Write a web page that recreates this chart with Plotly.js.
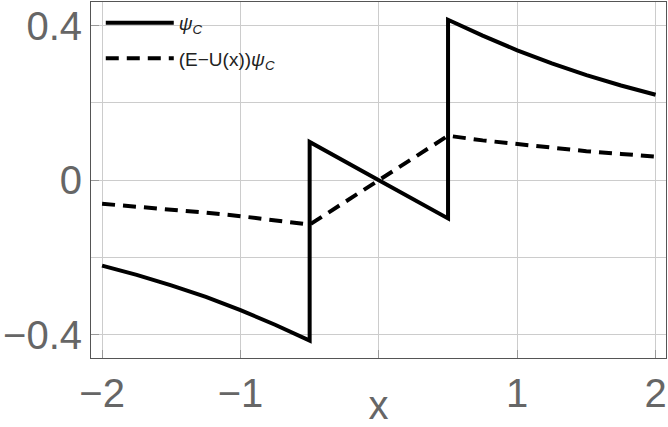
<!DOCTYPE html>
<html>
<head>
<meta charset="utf-8">
<script src="https://cdn.plot.ly/plotly-3.0.1.min.js"></script>
<style>
  html, body { margin: 0; padding: 0; background: #fff; }
  #plotArea { width: 668px; height: 427px; }
</style>
</head>
<body>
<div id="plotArea"></div>
<script>
// values
var xPsi = [-2, -1.75, -1.5, -1.25, -1, -0.75, -0.5, -0.5, 0, 0.5, 0.5, 0.75, 1, 1.25, 1.5, 1.75, 2];
var psi = [-0.221, -0.245, -0.272, -0.302, -0.336, -0.374, -0.415, 0.099, 0, -0.099, 0.415, 0.374, 0.336, 0.302, 0.272, 0.245, 0.221];

var xDash = [-2, -1.75, -1.5, -1.25, -1, -0.75, -0.5, 0, 0.5, 0.75, 1, 1.25, 1.5, 1.75, 2];
var eupsi = [-0.061, -0.068, -0.075, -0.084, -0.093, -0.103, -0.115, 0, 0.115, 0.103, 0.093, 0.084, 0.075, 0.068, 0.061];

var xTickVals = [-2, -1, 0, 1, 2];
var xTickText = ["\u22122", "\u22121", "", "1", "2"];
var yTickVals = [-0.4, 0, 0.4];
var yTickText = ["\u22120.4", "0", "0.4"];

var trace1 = {
    x: xPsi,
    y: psi,
    mode: "lines",
    type: "scatter",
    name: "<i>\u03c8<sub>C</sub></i>",
    legendgroup: "a",
    line: {color: "#000", width: 4}
};

var trace2 = {
    x: xDash,
    y: eupsi,
    mode: "lines",
    type: "scatter",
    name: "(E\u2212U(x))<i>\u03c8<sub>C</sub></i>",
    legendgroup: "b",
    line: {color: "#000", width: 4, dash: "13px,8px"}
};

var labelFont = {family: "Liberation Sans, Arial, sans-serif", size: 40, color: "#666"};

var layout = {
    width: 668,
    height: 427,
    margin: {l: 91, r: 2, t: 2, b: 69},
    paper_bgcolor: "#fff",
    plot_bgcolor: "#fff",
    showlegend: true,
    legend: {
        x: 0.017, y: 0.995, xanchor: "left", yanchor: "top",
        bgcolor: "rgba(0,0,0,0)",
        font: {family: "Liberation Sans, Arial, sans-serif", size: 19, color: "#222"},
        traceorder: "grouped",
        tracegroupgap: 8,
        itemwidth: 68
    },
    xaxis: {
        range: [-2.08, 2.075],
        tickvals: xTickVals,
        ticktext: xTickText,
        tickfont: labelFont,
        ticks: "inside",
        ticklen: 8,
        tickcolor: "#999",
        showgrid: true,
        gridcolor: "#ccc",
        zeroline: false,
        showline: true,
        linecolor: "#555",
        linewidth: 1,
        mirror: true,
        title: {text: "x", font: labelFont, standoff: 0}
    },
    yaxis: {
        range: [-0.46, 0.461],
        tickvals: yTickVals,
        ticktext: yTickText,
        tickfont: labelFont,
        ticks: "inside",
        ticklen: 8,
        tickcolor: "#999",
        showgrid: true,
        gridcolor: "#ccc",
        minor: {dtick: 0.2, tick0: 0, showgrid: true, gridcolor: "#ccc"},
        zeroline: false,
        showline: true,
        linecolor: "#555",
        linewidth: 1,
        mirror: true
    }
};

Plotly.newPlot("plotArea", [trace1, trace2], layout, {staticPlot: true});
</script>
</body>
</html>
